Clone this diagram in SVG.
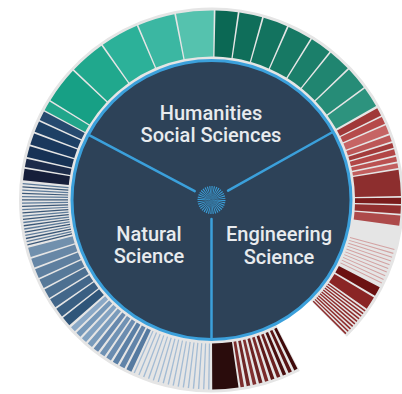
<svg xmlns="http://www.w3.org/2000/svg" width="402" height="394" viewBox="0 0 402 394">
<style>
.ring circle{fill:none}
.bg{stroke:#e5e5e5;stroke-width:52}
.bar{stroke-width:46}
.lbl{font-family:Roboto,"Liberation Sans",sans-serif;font-size:20px;font-weight:500;fill:#e8ebee;text-anchor:middle}
.div{stroke:#3ba0db;stroke-width:2.5;stroke-linecap:round;fill:none}
</style>
<rect width="402" height="394" fill="#ffffff"/>
<g id="ring-background" class="ring" transform="translate(211.5 200)">
<circle class="bg" r="166.5" pathLength="360" stroke-dasharray="342.6 360" transform="rotate(62.7)"/>
</g>
<g id="core">
<circle cx="211.5" cy="200" r="139.5" fill="#2d4258" stroke="#3ba0db" stroke-width="3"/>
</g>
<g id="node-humanities">
<g class="ring" transform="translate(211.5 200)">
<circle class="bar" r="166.5" pathLength="360" stroke="#22a68b" stroke-dasharray="3 360" transform="rotate(208.3)"/>
<circle class="bar" r="166.5" pathLength="360" stroke="#17a085" stroke-dasharray="11.2 360" transform="rotate(211.8)"/>
<circle class="bar" r="166.5" pathLength="360" stroke="#20a88d" stroke-dasharray="11 360" transform="rotate(223.5)"/>
<circle class="bar" r="166.5" pathLength="360" stroke="#2cb199" stroke-dasharray="11.8 360" transform="rotate(235)"/>
<circle class="bar" r="166.5" pathLength="360" stroke="#3bb7a2" stroke-dasharray="11.4 360" transform="rotate(247.3)"/>
<circle class="bar" r="166.5" pathLength="360" stroke="#55c2ae" stroke-dasharray="11.5 360" transform="rotate(259.2)"/>
<circle class="bar" r="166.5" pathLength="360" stroke="#0b6854" stroke-dasharray="6.8 360" transform="rotate(-88.8)"/>
<circle class="bar" r="166.5" pathLength="360" stroke="#0f6e5a" stroke-dasharray="7 360" transform="rotate(-81.5)"/>
<circle class="bar" r="166.5" pathLength="360" stroke="#13735f" stroke-dasharray="7.5 360" transform="rotate(-74)"/>
<circle class="bar" r="166.5" pathLength="360" stroke="#177964" stroke-dasharray="7.5 360" transform="rotate(-66)"/>
<circle class="bar" r="166.5" pathLength="360" stroke="#1b7f6a" stroke-dasharray="6.5 360" transform="rotate(-58)"/>
<circle class="bar" r="166.5" pathLength="360" stroke="#208570" stroke-dasharray="7 360" transform="rotate(-51)"/>
<circle class="bar" r="166.5" pathLength="360" stroke="#268c77" stroke-dasharray="7 360" transform="rotate(-43.5)"/>
<circle class="bar" r="166.5" pathLength="360" stroke="#2d937e" stroke-dasharray="6.3 360" transform="rotate(-36)"/>
</g>
<text class="lbl" x="211" y="120">Humanities</text>
<text class="lbl" x="211" y="142">Social Sciences</text>
</g>
<g id="node-engineering">
<g class="ring" transform="translate(211.5 200)">
<circle class="bar" r="166.5" pathLength="360" stroke="#a03838" stroke-dasharray="2.5 360" transform="rotate(-29)"/>
<circle class="bar" r="166.5" pathLength="360" stroke="#b54a4a" stroke-dasharray="2.3 360" transform="rotate(-26)"/>
<circle class="bar" r="166.5" pathLength="360" stroke="#c66464" stroke-dasharray="2.7 360" transform="rotate(-23.2)"/>
<circle class="bar" r="166.5" pathLength="360" stroke="#bc5757" stroke-dasharray="2 360" transform="rotate(-20)"/>
<circle class="bar" r="166.5" pathLength="360" stroke="#a33b3b" stroke-dasharray="1.5 360" transform="rotate(-17.5)"/>
<circle class="bar" r="166.5" pathLength="360" stroke="#b24646" stroke-dasharray="1.8 360" transform="rotate(-15.5)"/>
<circle class="bar" r="166.5" pathLength="360" stroke="#ba5151" stroke-dasharray="1.5 360" transform="rotate(-13.2)"/>
<circle class="bar" r="166.5" pathLength="360" stroke="#c25e5e" stroke-dasharray="1.5 360" transform="rotate(-11.2)"/>
<circle class="bar" r="166.5" pathLength="360" stroke="#8d2e2e" stroke-dasharray="8 360" transform="rotate(-9.2)"/>
<circle class="bar" r="166.5" pathLength="360" stroke="#7a1c1c" stroke-dasharray="1.9 360" transform="rotate(-0.7)"/>
<circle class="bar" r="166.5" pathLength="360" stroke="#922f2f" stroke-dasharray="2.5 360" transform="rotate(1.7)"/>
<circle class="bar" r="166.5" pathLength="360" stroke="#ad4a4a" stroke-dasharray="3.1 360" transform="rotate(4.7)"/>
<circle class="bar" r="166.5" pathLength="360" stroke="#d3a2a2" stroke-dasharray="0.35 0.85 0.35 0.85 0.35 0.85 0.35 0.85 0.35 0.85 0.35 0.85 0.35 0.85 0.35 0.85 0.35 0.85 0.35 360" transform="rotate(15)"/>
<circle class="bar" r="166.5" pathLength="360" stroke="#6b1212" stroke-dasharray="3 360" transform="rotate(27.4)"/>
<circle class="bar" r="166.5" pathLength="360" stroke="#8a2525" stroke-dasharray="4 360" transform="rotate(31)"/>
<circle class="bar" r="166.5" pathLength="360" stroke="#8e2c2c" stroke-dasharray="0.5 0.5 0.5 0.5 0.5 0.5 0.5 0.5 0.5 0.5 0.5 0.5 0.5 0.5 0.5 0.5 0.5 0.5 0.5 360" transform="rotate(35.6)"/>
<circle class="bar" r="166.5" pathLength="360" stroke="#3f0a0a" stroke-dasharray="1.1 360" transform="rotate(63)"/>
<circle class="bar" r="166.5" pathLength="360" stroke="#5a1515" stroke-dasharray="1.1 360" transform="rotate(64.9)"/>
<circle class="bar" r="166.5" pathLength="360" stroke="#4a0e0e" stroke-dasharray="1.1 360" transform="rotate(66.8)"/>
<circle class="bar" r="166.5" pathLength="360" stroke="#6a1f1f" stroke-dasharray="1.1 360" transform="rotate(68.7)"/>
<circle class="bar" r="166.5" pathLength="360" stroke="#5c1818" stroke-dasharray="1.1 360" transform="rotate(70.6)"/>
<circle class="bar" r="166.5" pathLength="360" stroke="#7a2a2a" stroke-dasharray="1.1 360" transform="rotate(72.5)"/>
<circle class="bar" r="166.5" pathLength="360" stroke="#6b2222" stroke-dasharray="1.1 360" transform="rotate(74.4)"/>
<circle class="bar" r="166.5" pathLength="360" stroke="#803030" stroke-dasharray="1.1 360" transform="rotate(76.3)"/>
<circle class="bar" r="166.5" pathLength="360" stroke="#6e2525" stroke-dasharray="1.1 360" transform="rotate(78.2)"/>
<circle class="bar" r="166.5" pathLength="360" stroke="#7c2d2d" stroke-dasharray="1.1 360" transform="rotate(80.1)"/>
<circle class="bar" r="166.5" pathLength="360" stroke="#2a0c0c" stroke-dasharray="8 360" transform="rotate(81.8)"/>
</g>
<text class="lbl" x="279" y="241">Engineering</text>
<text class="lbl" x="279" y="264">Science</text>
</g>
<g id="node-natural">
<g class="ring" transform="translate(211.5 200)">
<circle class="bar" r="166.5" pathLength="360" stroke="#a4bcd4" stroke-dasharray="0.45 1.1 0.45 1.1 0.45 1.1 0.45 1.1 0.45 1.1 0.45 1.1 0.45 1.1 0.45 1.1 0.45 1.1 0.45 1.1 0.45 1.1 0.45 1.1 0.45 1.1 0.45 1.1 0.45 1.1 0.45 360" transform="rotate(90.6)"/>
<circle class="bar" r="166.5" pathLength="360" stroke="#557aa0" stroke-dasharray="1.7 360" transform="rotate(115)"/>
<circle class="bar" r="166.5" pathLength="360" stroke="#6184a9" stroke-dasharray="1.7 360" transform="rotate(117.35)"/>
<circle class="bar" r="166.5" pathLength="360" stroke="#5a7fa5" stroke-dasharray="1.7 360" transform="rotate(119.7)"/>
<circle class="bar" r="166.5" pathLength="360" stroke="#6a8cb0" stroke-dasharray="1.7 360" transform="rotate(122.05)"/>
<circle class="bar" r="166.5" pathLength="360" stroke="#7092b4" stroke-dasharray="1.7 360" transform="rotate(124.4)"/>
<circle class="bar" r="166.5" pathLength="360" stroke="#6688ad" stroke-dasharray="1.7 360" transform="rotate(126.75)"/>
<circle class="bar" r="166.5" pathLength="360" stroke="#7a9bbb" stroke-dasharray="1.7 360" transform="rotate(129.1)"/>
<circle class="bar" r="166.5" pathLength="360" stroke="#82a2c1" stroke-dasharray="1.7 360" transform="rotate(131.45)"/>
<circle class="bar" r="166.5" pathLength="360" stroke="#7698b9" stroke-dasharray="1.7 360" transform="rotate(133.8)"/>
<circle class="bar" r="166.5" pathLength="360" stroke="#8aa8c6" stroke-dasharray="1.7 360" transform="rotate(136.15)"/>
<circle class="bar" r="166.5" pathLength="360" stroke="#2f5579" stroke-dasharray="3 360" transform="rotate(138.6)"/>
<circle class="bar" r="166.5" pathLength="360" stroke="#3a5f82" stroke-dasharray="2.9 360" transform="rotate(142.1)"/>
<circle class="bar" r="166.5" pathLength="360" stroke="#43678a" stroke-dasharray="2.9 360" transform="rotate(145.5)"/>
<circle class="bar" r="166.5" pathLength="360" stroke="#4d7091" stroke-dasharray="2.9 360" transform="rotate(148.9)"/>
<circle class="bar" r="166.5" pathLength="360" stroke="#577999" stroke-dasharray="2.9 360" transform="rotate(152.3)"/>
<circle class="bar" r="166.5" pathLength="360" stroke="#5e7f9f" stroke-dasharray="2.9 360" transform="rotate(155.7)"/>
<circle class="bar" r="166.5" pathLength="360" stroke="#6787a6" stroke-dasharray="2.9 360" transform="rotate(159.1)"/>
<circle class="bar" r="166.5" pathLength="360" stroke="#7190ad" stroke-dasharray="2.9 360" transform="rotate(162.5)"/>
<circle class="bar" r="166.5" pathLength="360" stroke="#3b5878" stroke-dasharray="0.45 1.51 0.45 1.51 0.45 1.51 0.45 1.51 0.45 1.51 0.45 1.51 0.45 1.51 0.45 1.51 0.45 1.51 0.45 360" transform="rotate(166.1)"/>
<circle class="bar" r="166.5" pathLength="360" stroke="#5d7b9a" stroke-dasharray="0.45 1.51 0.45 1.51 0.45 1.51 0.45 1.51 0.45 1.51 0.45 1.51 0.45 1.51 0.45 1.51 0.45 1.51 0.45 360" transform="rotate(167.08)"/>
<circle class="bar" r="166.5" pathLength="360" stroke="#161e3a" stroke-dasharray="3.5 360" transform="rotate(186)"/>
<circle class="bar" r="166.5" pathLength="360" stroke="#1c2b4a" stroke-dasharray="2.6 360" transform="rotate(190)"/>
<circle class="bar" r="166.5" pathLength="360" stroke="#173255" stroke-dasharray="3.4 360" transform="rotate(193.1)"/>
<circle class="bar" r="166.5" pathLength="360" stroke="#1a385d" stroke-dasharray="3.6 360" transform="rotate(197)"/>
<circle class="bar" r="166.5" pathLength="360" stroke="#1e4065" stroke-dasharray="3.4 360" transform="rotate(201.1)"/>
<circle class="bar" r="166.5" pathLength="360" stroke="#274a6f" stroke-dasharray="2.9 360" transform="rotate(205)"/>
</g>
<text class="lbl" x="149" y="241">Natural</text>
<text class="lbl" x="149" y="263">Science</text>
</g>
<g id="connectors">
<line class="div" x1="228.07" y1="190.7" x2="332.72" y2="131.97"/>
<line class="div" x1="194.71" y1="191.11" x2="88.65" y2="134.96"/>
<line class="div" x1="211.5" y1="219" x2="211.5" y2="339"/>
</g>
<g id="node-root">
<circle cx="211.5" cy="200" r="7" fill="none" stroke="#3ba0db" stroke-width="14" pathLength="360" stroke-dasharray="5 5"/>
</g>
</svg>
